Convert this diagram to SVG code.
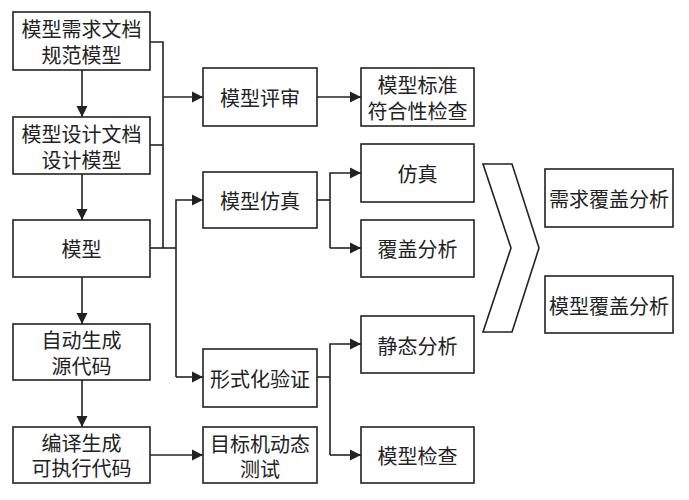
<svg xmlns="http://www.w3.org/2000/svg" width="689" height="500" viewBox="0 0 689 500">
<style>
.b{fill:#fff;stroke:#222;stroke-width:1.6}
.t{font-family:"Noto Sans CJK SC","Noto Sans CJK JP",sans-serif;font-size:20px;fill:#222;text-anchor:middle;dominant-baseline:central}
.c{fill:none;stroke:#222;stroke-width:1.6}
</style>
<defs>
<marker id="a" markerUnits="userSpaceOnUse" markerWidth="12" markerHeight="12" refX="11" refY="6" orient="auto">
<path d="M0,0.5 L11,6 L0,11.5 Z" fill="#222"/>
</marker>
</defs>
<rect width="689" height="500" fill="#fff"/>
<g id="connectors">
<path class="c" d="M82,70 V117" marker-end="url(#a)"/>
<path class="c" d="M82,174 V220" marker-end="url(#a)"/>
<path class="c" d="M82,277 V324" marker-end="url(#a)"/>
<path class="c" d="M82,380 V427" marker-end="url(#a)"/>
<path class="c" d="M150,42 H163 V248"/>
<path class="c" d="M150,145 H163"/>
<path class="c" d="M150,248 H176"/>
<path class="c" d="M163,97 H203" marker-end="url(#a)"/>
<path class="c" d="M176,377 V200 H203" marker-end="url(#a)"/>
<path class="c" d="M176,377 H203" marker-end="url(#a)"/>
<path class="c" d="M317,97 H361" marker-end="url(#a)"/>
<path class="c" d="M317,200 H330"/>
<path class="c" d="M330,248 V173 H361" marker-end="url(#a)"/>
<path class="c" d="M330,248 H361" marker-end="url(#a)"/>
<path class="c" d="M317,377 H330"/>
<path class="c" d="M330,455 V344 H361" marker-end="url(#a)"/>
<path class="c" d="M330,455 H361" marker-end="url(#a)"/>
<path class="c" d="M150,455 H203" marker-end="url(#a)"/>
<path class="c" d="M483,164 L512,164 L539,248 L512,332 L483,332 L511,248 Z"/>
</g>
<g id="n1"><rect class="b" x="13" y="12" width="137" height="58"/><text class="t" x="81.5" y="28">模型需求文档</text><text class="t" x="81.5" y="54">规范模型</text></g>
<g id="n2"><rect class="b" x="13" y="117" width="137" height="57"/><text class="t" x="81.5" y="133">模型设计文档</text><text class="t" x="81.5" y="159">设计模型</text></g>
<g id="n3"><rect class="b" x="13" y="220" width="137" height="57"/><text class="t" x="81.5" y="248">模型</text></g>
<g id="n4"><rect class="b" x="13" y="324" width="137" height="56"/><text class="t" x="81.5" y="339">自动生成</text><text class="t" x="81.5" y="365">源代码</text></g>
<g id="n5"><rect class="b" x="13" y="427" width="137" height="56"/><text class="t" x="81.5" y="442">编译生成</text><text class="t" x="81.5" y="467">可执行代码</text></g>
<g id="n6"><rect class="b" x="203" y="68" width="114" height="58"/><text class="t" x="260" y="97">模型评审</text></g>
<g id="n7"><rect class="b" x="203" y="172" width="114" height="56"/><text class="t" x="260" y="200">模型仿真</text></g>
<g id="n8"><rect class="b" x="203" y="349" width="114" height="58"/><text class="t" x="260" y="378">形式化验证</text></g>
<g id="n9"><rect class="b" x="203" y="427" width="114" height="56"/><text class="t" x="260" y="443">目标机动态</text><text class="t" x="260" y="468">测试</text></g>
<g id="n10"><rect class="b" x="361" y="68" width="113" height="58"/><text class="t" x="417.5" y="84">模型标准</text><text class="t" x="417.5" y="110">符合性检查</text></g>
<g id="n11"><rect class="b" x="361" y="144" width="113" height="58"/><text class="t" x="417.5" y="173">仿真</text></g>
<g id="n12"><rect class="b" x="361" y="220" width="113" height="57"/><text class="t" x="417.5" y="248">覆盖分析</text></g>
<g id="n13"><rect class="b" x="361" y="316" width="113" height="57"/><text class="t" x="417.5" y="345">静态分析</text></g>
<g id="n14"><rect class="b" x="361" y="427" width="113" height="56"/><text class="t" x="417.5" y="455">模型检查</text></g>
<g id="n15"><rect class="b" x="545" y="169" width="128" height="58"/><text class="t" x="609" y="198">需求覆盖分析</text></g>
<g id="n16"><rect class="b" x="545" y="276" width="128" height="57"/><text class="t" x="609" y="305">模型覆盖分析</text></g>
</svg>
